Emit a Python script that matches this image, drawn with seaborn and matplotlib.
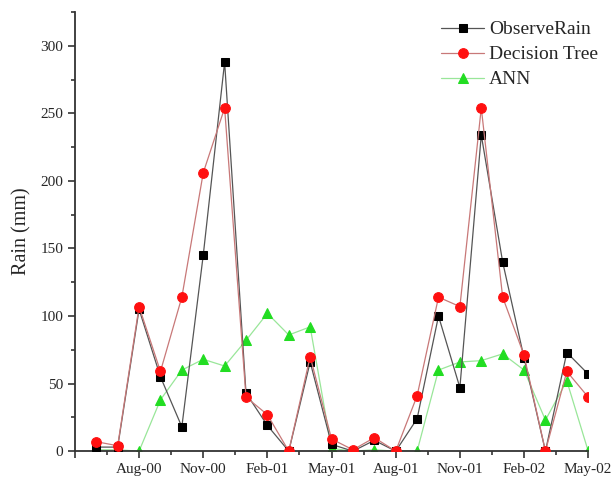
import matplotlib
matplotlib.use("Agg")
import matplotlib.pyplot as plt
import seaborn as sns
import pandas as pd
import numpy as np
from matplotlib.ticker import MultipleLocator, FixedLocator

months = ["Jun-00", "Jul-00", "Aug-00", "Sep-00", "Oct-00", "Nov-00", "Dec-00",
          "Jan-01", "Feb-01", "Mar-01", "Apr-01", "May-01", "Jun-01", "Jul-01",
          "Aug-01", "Sep-01", "Oct-01", "Nov-01", "Dec-01", "Jan-02", "Feb-02",
          "Mar-02", "Apr-02", "May-02"]
observe_rain = [3, 3, 105, 55, 18, 145, 288, 43, 19, 0, 66, 5,
                0, 8, 0, 24, 100, 47, 234, 140, 69, 0, 73, 57]
decision_tree = [7, 4, 107, 59, 114, 206, 254, 40, 27, 0, 70, 9,
                 1, 10, 0, 41, 114, 107, 254, 114, 71, 0, 59, 40]
ann = [1, 1, 0, 38, 60, 68, 63, 82, 102, 86, 92, 2,
       0, 1, 0, 0, 60, 66, 67, 72, 60, 23, 52, 0]
tick_labels = ["", "Aug-00", "Nov-00", "Feb-01", "May-01", "Aug-01", "Nov-01", "Feb-02", "May-02"]

df = pd.DataFrame({
    "idx": np.arange(1, len(months) + 1),
    "ObserveRain": observe_rain,
    "Decision Tree": decision_tree,
    "ANN": ann,
})

sns.set_theme(style="ticks")
plt.rcParams["font.family"] = ["Liberation Serif", "DejaVu Serif"]

fig = plt.figure(figsize=(6.14, 4.82), dpi=100)
ax = fig.add_axes([0.122, 0.064, 0.836, 0.911])

sns.lineplot(data=df, x="idx", y="ObserveRain", ax=ax, color="#555555", lw=0.9,
             marker="s", markersize=5.5, markerfacecolor="black", markeredgecolor="black",
             label="ObserveRain", zorder=3)
sns.lineplot(data=df, x="idx", y="Decision Tree", ax=ax, color="#c87878", lw=0.9,
             marker="o", markersize=7, markerfacecolor="#ff1010", markeredgecolor="#ff1010",
             label="Decision Tree", zorder=4)
sns.lineplot(data=df, x="idx", y="ANN", ax=ax, color="#99e699", lw=0.9,
             marker="^", markersize=7, markerfacecolor="#22dd22", markeredgecolor="#22dd22",
             label="ANN", zorder=2)

ax.set_xlim(0, 24)
ax.set_ylim(0, 325)
ax.xaxis.set_major_locator(FixedLocator(np.arange(0, 25, 3)))
ax.set_xticklabels(tick_labels)
ax.xaxis.set_minor_locator(FixedLocator(np.arange(1.5, 24, 3)))
ax.yaxis.set_major_locator(MultipleLocator(50))
ax.yaxis.set_minor_locator(MultipleLocator(25))
ax.tick_params(axis="both", which="major", length=5, width=1.2, labelsize=11, color="#333333")
ax.tick_params(axis="both", which="minor", length=3, width=1.2, color="#333333")
ax.set_xlabel("")
ax.set_ylabel("Rain (mm)", fontsize=14.5, labelpad=6)
for s in ["top", "right"]:
    ax.spines[s].set_visible(False)
for s in ["left", "bottom"]:
    ax.spines[s].set_linewidth(1.3)
    ax.spines[s].set_color("#333333")

leg = ax.legend(loc="upper right", bbox_to_anchor=(0.996, 0.985), bbox_transform=fig.transFigure,
                frameon=False, fontsize=14, handlelength=2.2, labelspacing=0.38,
                handletextpad=0.25, borderpad=0.2)

fig.savefig("out.png", dpi=100)
